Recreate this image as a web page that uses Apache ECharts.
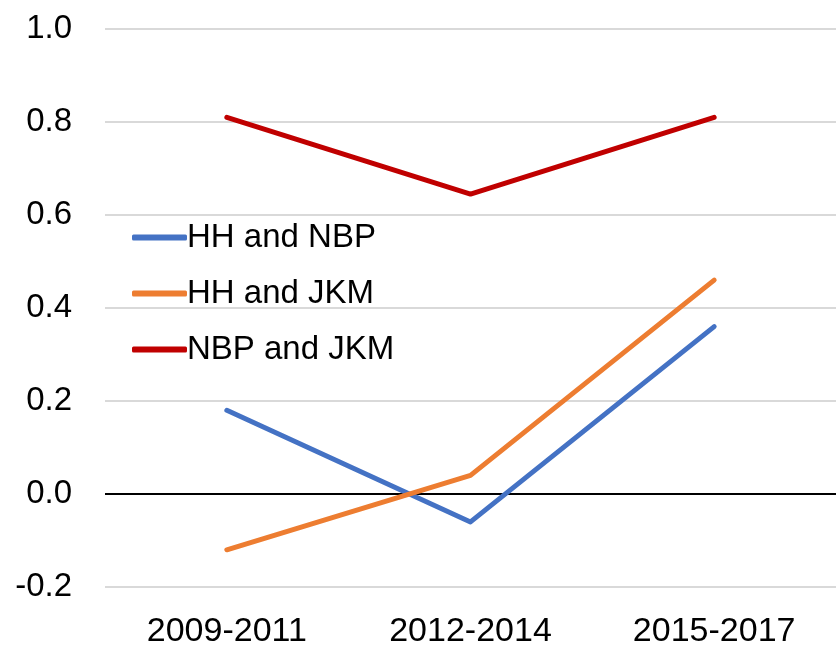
<!DOCTYPE html>
<html>
<head>
<meta charset="utf-8">
<script src="https://cdn.jsdelivr.net/npm/echarts@6/dist/echarts.min.js"></script>
<style>
  html, body { margin: 0; padding: 0; background: #fff; }
  #main { width: 836px; height: 649px; }
</style>
</head>
<body>
<div id="main"></div>
<script>
const periods = ['2009-2011', '2012-2014', '2015-2017'];
const hhNbp = [0.18, -0.06, 0.36];
const hhJkm = [-0.12, 0.04, 0.46];
const nbpJkm = [0.81, 0.645, 0.81];

const font = 'Liberation Sans';

function lineSeries(name, data, color) {
    return {
        name: name,
        type: 'line',
        data: data,
        symbol: 'none',
        lineStyle: { color: color, width: 5, cap: 'round', join: 'round' },
        itemStyle: { color: color },
        z: 3
    };
}

const series = [
    lineSeries('HH and NBP', hhNbp, '#4472C4'),
    lineSeries('HH and JKM', hhJkm, '#ED7D31'),
    lineSeries('NBP and JKM', nbpJkm, '#C00000')
];
// black zero line
series[0].markLine = {
    silent: true,
    symbol: 'none',
    label: { show: false },
    lineStyle: { color: '#000', width: 2, type: 'solid' },
    data: [{ yAxis: 0 }],
    z: 2
};

const option = {
    backgroundColor: '#fff',
    animation: false,
    grid: { left: 105, right: 0, top: 29, bottom: 62 },
    legend: {
        orient: 'vertical',
        left: 127,
        top: 216,
        icon: 'roundRect',
        itemWidth: 55,
        itemHeight: 6,
        itemGap: 23,
        data: ['HH and NBP', 'HH and JKM', 'NBP and JKM'],
        textStyle: { fontFamily: font, fontSize: 33, color: '#000', padding: [0, 0, 0, -5] }
    },
    xAxis: {
        type: 'category',
        data: periods,
        boundaryGap: true,
        axisLine: { show: false, onZero: false },
        axisTick: { show: false },
        axisLabel: { fontFamily: font, fontSize: 34, color: '#000', margin: 28 }
    },
    yAxis: {
        type: 'value',
        min: -0.2,
        max: 1.0,
        interval: 0.2,
        axisLine: { show: false },
        axisTick: { show: false },
        splitLine: { lineStyle: { color: '#d9d9d9', width: 2 } },
        axisLabel: {
            fontFamily: font, fontSize: 33, color: '#000', margin: 33,
            formatter: function (v) { return v.toFixed(1); }
        }
    },
    series: series
};

const chart = echarts.init(document.getElementById('main'));
chart.setOption(option);
</script>
</body>
</html>
